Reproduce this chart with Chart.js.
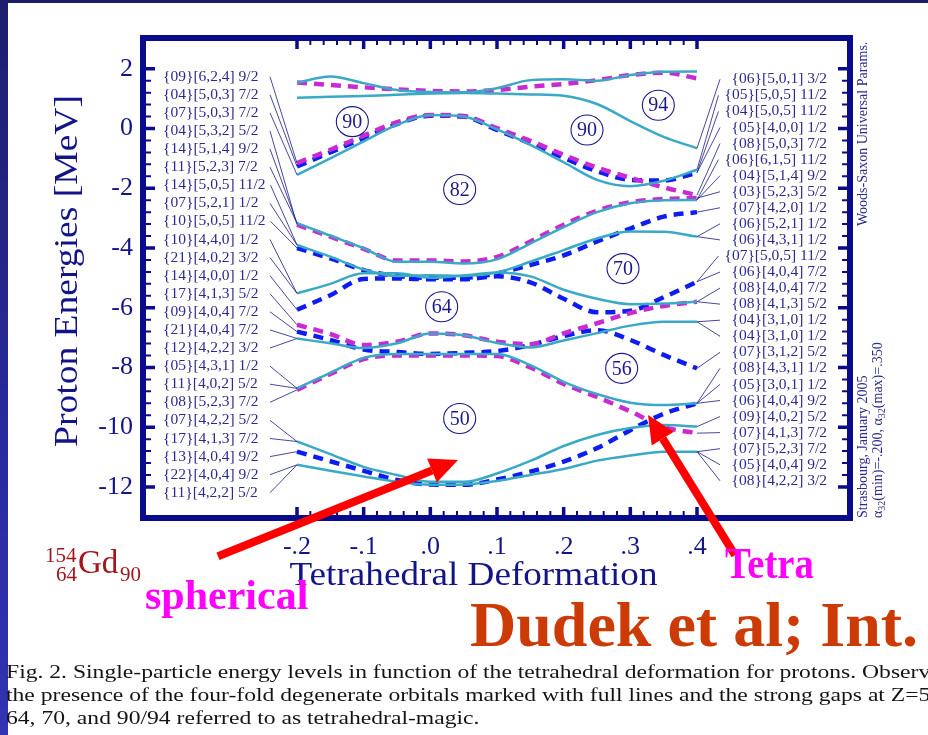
<!DOCTYPE html>
<html>
<head>
<meta charset="utf-8">
<title>Proton single-particle levels vs tetrahedral deformation</title>
<script src="https://cdn.jsdelivr.net/npm/chart.js@4.4.1/dist/chart.umd.min.js"></script>
<style>
  html, body { margin: 0; padding: 0; background: #fff; }
  #slide { position: relative; width: 928px; height: 735px; overflow: hidden; background: #fff;
           font-family: "Liberation Serif", "Times New Roman", serif; }
  #bandTop { position: absolute; left: 0; top: 0; width: 928px; height: 3px; background: #1c1c66; }
  #bandLeft { position: absolute; left: 0; top: 0; width: 8px; height: 735px;
              background: linear-gradient(#1e1e6c, #2a2a9c 60%, #3333b4); }
  canvas { position: absolute; left: 0; top: 0; }
  .t { position: absolute; white-space: nowrap; line-height: 1; }
  .nuc { color: #a3161c; }
  .pink { color: #ff00ff; font-weight: bold; }
  #dudek { color: #cc3a06; font-weight: bold; font-size: 64px; left: 470px; top: 593px; }
  .cap { font-size: 18px; color: #141414; left: 6px; transform-origin: 0 0; }
</style>
</head>
<body>
<div id="slide">
  <canvas id="levels" width="928" height="735"></canvas>
  <div id="bandTop"></div>
  <div id="bandLeft"></div>

  <span class="t nuc" style="left:45px;top:545px;font-size:21px">154</span>
  <span class="t nuc" style="left:56px;top:564px;font-size:21px">64</span>
  <span class="t nuc" style="left:78px;top:546px;font-size:33px">Gd</span>
  <span class="t nuc" style="left:120px;top:564px;font-size:21px">90</span>

  <span class="t pink" id="spherical" style="left:145px;top:574px;font-size:42px">spherical</span>
  <span class="t pink" id="tetra" style="left:725px;top:542px;font-size:44px;transform:scaleX(0.88);transform-origin:0 0">Tetra</span>
  <span class="t" id="dudek">Dudek et al; Int.</span>

  <span class="t cap" id="cap1" style="top:663px">Fig. 2. Single-particle energy levels in function of the tetrahedral deformation for protons. Observe</span>
  <span class="t cap" id="cap2" style="top:686px">the presence of the four-fold degenerate orbitals marked with full lines and the strong gaps at Z=56,</span>
  <span class="t cap" id="cap3" style="top:709px">64, 70, and 90/94 referred to as tetrahedral-magic.</span>
</div>

<script>
// Tetrahedral deformation alpha_32 at which the levels are sampled
const alpha = [-0.2, -0.15, -0.1, -0.05, 0, 0.05, 0.1, 0.15, 0.2, 0.25, 0.3, 0.35, 0.4];

// Four-fold degenerate levels (full lines), energies in MeV
const levelA = [1.53, 1.74, 1.52, 1.29, 1.22, 1.21, 1.35, 1.62, 1.65, 1.60, 1.79, 1.90, 1.91];
const levelB = [1.03, 1.06, 1.09, 1.13, 1.17, 1.19, 1.17, 1.14, 1.10, 0.82, 0.25, -0.28, -0.66];
const levelC = [-1.55, -1.00, -0.43, 0.12, 0.45, 0.40, -0.03, -0.55, -1.13, -1.72, -1.93, -1.75, -1.38];
const levelE = [-3.17, -3.59, -4.01, -4.46, -4.46, -4.52, -4.38, -3.85, -3.30, -2.80, -2.50, -2.40, -2.39];
const levelH = [-3.90, -4.29, -4.72, -4.94, -4.91, -4.94, -4.82, -4.46, -4.07, -3.68, -3.45, -3.46, -3.62];
const levelI = [-5.52, -5.20, -4.85, -4.85, -5.00, -4.92, -4.82, -4.95, -5.40, -5.70, -5.88, -5.86, -5.80];
const levelL = [-7.03, -7.19, -7.35, -7.19, -6.86, -6.92, -7.18, -7.33, -7.10, -6.85, -6.60, -6.47, -6.47];
const levelM = [-8.70, -8.18, -7.68, -7.55, -7.55, -7.55, -7.55, -7.92, -8.48, -8.89, -9.18, -9.26, -9.20];
const levelO = [-10.48, -10.90, -11.33, -11.60, -11.83, -11.83, -11.55, -11.13, -10.63, -10.26, -10.03, -9.93, -9.98];
const levelP = [-11.26, -11.46, -11.65, -11.83, -11.93, -11.92, -11.80, -11.60, -11.40, -11.12, -10.95, -10.82, -10.82];

// Two-fold levels, blue dashed
const levelDb = [-1.27, -0.80, -0.32, 0.15, 0.43, 0.40, -0.05, -0.50, -0.98, -1.43, -1.72, -1.74, -1.48];
const levelG  = [-4.00, -4.35, -4.74, -4.94, -5.00, -5.00, -4.85, -4.57, -4.25, -3.78, -3.35, -2.95, -2.80];
const levelJ  = [-6.07, -5.58, -5.04, -5.02, -5.05, -5.05, -4.95, -5.15, -5.70, -6.15, -6.10, -5.65, -5.13];
const levelKb = [-6.80, -7.08, -7.40, -7.48, -7.55, -7.51, -7.45, -7.25, -6.95, -6.75, -7.08, -7.58, -8.03];
const levelN  = [-10.82, -11.14, -11.46, -11.77, -11.92, -11.93, -11.75, -11.49, -11.15, -10.70, -10.10, -9.55, -9.20];

// Two-fold levels, magenta dashed
const levelT  = [1.54, 1.46, 1.38, 1.31, 1.26, 1.24, 1.29, 1.40, 1.49, 1.62, 1.79, 1.87, 1.68];
const levelD  = [-1.16, -0.71, -0.24, 0.21, 0.45, 0.42, 0.01, -0.41, -0.88, -1.31, -1.65, -1.97, -2.23];
const levelF  = [-3.22, -3.62, -4.03, -4.42, -4.42, -4.45, -4.30, -3.78, -3.22, -2.75, -2.47, -2.36, -2.33];
const levelK  = [-6.57, -6.88, -7.25, -7.14, -6.86, -6.92, -7.14, -7.22, -6.86, -6.52, -6.18, -5.94, -5.80];
const levelMm = [-8.75, -8.22, -7.72, -7.60, -7.60, -7.60, -7.62, -8.00, -8.55, -8.99, -9.47, -9.99, -10.20];

// Orbital labels (Nilsson-type) and the level each one is attached to
const leftOrbitals = [
  '{09}[6,2,4] 9/2', '{04}[5,0,3] 7/2', '{07}[5,0,3] 7/2', '{04}[5,3,2] 5/2',
  '{14}[5,1,4] 9/2', '{11}[5,2,3] 7/2', '{14}[5,0,5] 11/2', '{07}[5,2,1] 1/2',
  '{10}[5,0,5] 11/2', '{10}[4,4,0] 1/2', '{21}[4,0,2] 3/2', '{14}[4,0,0] 1/2',
  '{17}[4,1,3] 5/2', '{09}[4,0,4] 7/2', '{21}[4,0,4] 7/2', '{12}[4,2,2] 3/2',
  '{05}[4,3,1] 1/2', '{11}[4,0,2] 5/2', '{08}[5,2,3] 7/2', '{07}[4,2,2] 5/2',
  '{17}[4,1,3] 7/2', '{13}[4,0,4] 9/2', '{22}[4,0,4] 9/2', '{11}[4,2,2] 5/2'
];
const leftLevelOf = ['D', 'Db', 'C', 'F', 'E', 'E', 'H', 'H', 'G', 'I', 'I', 'J',
                     'K', 'Kb', 'L', 'L', 'M', 'M', 'Mm', 'O', 'O', 'N', 'P', 'P'];
const rightOrbitals = [
  '{06}[5,0,1] 3/2', '{05}[5,0,5] 11/2', '{04}[5,0,5] 11/2', '{05}[4,0,0] 1/2',
  '{08}[5,0,3] 7/2', '{06}[6,1,5] 11/2', '{04}[5,1,4] 9/2', '{03}[5,2,3] 5/2',
  '{07}[4,2,0] 1/2', '{06}[5,2,1] 1/2', '{06}[4,3,1] 1/2', '{07}[5,0,5] 11/2',
  '{06}[4,0,4] 7/2', '{08}[4,0,4] 7/2', '{08}[4,1,3] 5/2', '{04}[3,1,0] 1/2',
  '{04}[3,1,0] 1/2', '{07}[3,1,2] 5/2', '{08}[4,3,1] 1/2', '{05}[3,0,1] 1/2',
  '{06}[4,0,4] 9/2', '{09}[4,0,2] 5/2', '{07}[4,1,3] 7/2', '{07}[5,2,3] 7/2',
  '{05}[4,0,4] 9/2', '{08}[4,2,2] 3/2'
];
const rightLevelOf = ['B', 'C', 'Db', 'Db', 'D', 'E', 'E', 'F', 'G', 'H', 'H', 'J', 'J',
                      'I', 'K', 'L', 'L', 'Kb', 'M', 'N', 'M', 'O', 'Mm', 'P', 'P', 'P'];

// Shell gaps (circled proton numbers) and where they sit
const gapNumbers = ['90', '82', '90', '94', '70', '64', '56', '50'];
const gapAlpha   = [-0.117, 0.044, 0.235, 0.342, 0.289, 0.017, 0.287, 0.044];
const gapEnergy  = [0.23, -2.04, -0.05, 0.78, -4.69, -5.97, -8.03, -9.71];

// Axis ticks
const yTickValues = [2, 0, -2, -4, -6, -8, -10, -12];
const xTickValues = [-0.2, -0.1, 0, 0.1, 0.2, 0.3, 0.4];
const xTickText   = ['-.2', '-.1', '.0', '.1', '.2', '.3', '.4'];

// Pointers from the slide annotations to the spherical and tetrahedral points
const arrowFrom = [[-0.3185, -14.32], [0.457, -14.28]];
const arrowTo   = [[0.0415, -11.10], [0.3265, -9.59]];

// ---------------------------------------------------------------------
const levels = {
  A: { v: levelA, kind: 'full' }, B: { v: levelB, kind: 'full' }, C: { v: levelC, kind: 'full' },
  E: { v: levelE, kind: 'full' }, H: { v: levelH, kind: 'full' }, I: { v: levelI, kind: 'full' },
  L: { v: levelL, kind: 'full' }, M: { v: levelM, kind: 'full' }, O: { v: levelO, kind: 'full' },
  P: { v: levelP, kind: 'full' },
  Db: { v: levelDb, kind: 'blue' }, G: { v: levelG, kind: 'blue' }, J: { v: levelJ, kind: 'blue' },
  Kb: { v: levelKb, kind: 'blue' }, N: { v: levelN, kind: 'blue' },
  T: { v: levelT, kind: 'pink' }, D: { v: levelD, kind: 'pink' }, F: { v: levelF, kind: 'pink' },
  K: { v: levelK, kind: 'pink' }, Mm: { v: levelMm, kind: 'pink' }
};

const lineStyle = {
  full: { color: '#3aa9c6', width: 2.5, dash: [],      order: 0 },
  pink: { color: '#c92ad2', width: 4.5, dash: [10, 7], order: 1 },
  blue: { color: '#0d1cf0', width: 4.5, dash: [10, 7], order: 2 }
};

const datasets = Object.entries(levels).map(([key, lv]) => {
  const s = lineStyle[lv.kind];
  return {
    label: key,
    data: alpha.map((a, i) => ({ x: a, y: lv.v[i] })),
    borderColor: s.color,
    borderWidth: s.width,
    borderDash: s.dash,
    borderCapStyle: 'butt',
    pointRadius: 0,
    fill: false,
    cubicInterpolationMode: 'monotone',
    order: s.order
  };
});

const INK = '#0a0a8c';
const LABEL_INK = '#2b2b8f';

function drawArrow(ctx, x1, y1, x2, y2) {
  const ang = Math.atan2(y2 - y1, x2 - x1);
  const headLen = 28, headHalf = 13;
  const bx = x2 - headLen * Math.cos(ang), by = y2 - headLen * Math.sin(ang);
  ctx.save();
  ctx.strokeStyle = '#ff0000';
  ctx.fillStyle = '#ff0000';
  ctx.lineWidth = 8;
  ctx.lineCap = 'butt';
  ctx.beginPath(); ctx.moveTo(x1, y1); ctx.lineTo(bx, by); ctx.stroke();
  ctx.beginPath();
  ctx.moveTo(x2, y2);
  ctx.lineTo(bx + headHalf * Math.sin(ang), by - headHalf * Math.cos(ang));
  ctx.lineTo(bx - headHalf * Math.sin(ang), by + headHalf * Math.cos(ang));
  ctx.closePath(); ctx.fill();
  ctx.restore();
}

// Text stretched along its own direction to a given length
function fitText(ctx, text, cx, cy, length, rot) {
  ctx.save();
  ctx.translate(cx, cy);
  if (rot) ctx.rotate(rot);
  const w = ctx.measureText(text).width;
  ctx.scale(length / w, 1);
  ctx.textAlign = 'center';
  ctx.fillText(text, 0, 0);
  ctx.restore();
}

const decor = {
  id: 'decor',
  afterDatasetsDraw(chart) {
    const { ctx, chartArea: ca, scales: { x, y } } = chart;
    ctx.save();

    // frame
    ctx.strokeStyle = INK;
    ctx.lineWidth = 6;
    ctx.strokeRect(ca.left - 3, ca.top - 3, ca.right - ca.left + 6, ca.bottom - ca.top + 6);

    // inward ticks: energy every 0.4 MeV, deformation every 0.02
    ctx.lineCap = 'butt';
    for (let i = 0; i <= 35; i++) {
      const v = 2 - i * 0.4, major = i % 5 === 0;
      const py = y.getPixelForValue(v);
      ctx.lineWidth = major ? 3.5 : 2;
      const len = major ? 9 : 5;
      ctx.beginPath();
      ctx.moveTo(ca.left, py); ctx.lineTo(ca.left + len, py);
      ctx.moveTo(ca.right, py); ctx.lineTo(ca.right - len, py);
      ctx.stroke();
    }
    for (let i = 0; i <= 30; i++) {
      const v = -0.2 + i * 0.02, major = i % 5 === 0;
      const px = x.getPixelForValue(v);
      ctx.lineWidth = major ? 3.5 : 2;
      const len = major ? 8 : 4;
      ctx.beginPath();
      ctx.moveTo(px, ca.top); ctx.lineTo(px, ca.top + len);
      ctx.moveTo(px, ca.bottom); ctx.lineTo(px, ca.bottom - len);
      ctx.stroke();
    }

    // tick labels
    ctx.fillStyle = '#14148a';
    ctx.font = '26px "Liberation Serif"';
    ctx.textAlign = 'right';
    ctx.textBaseline = 'middle';
    yTickValues.forEach(v => ctx.fillText(String(v), ca.left - 13, y.getPixelForValue(v)));
    ctx.textAlign = 'center';
    ctx.textBaseline = 'alphabetic';
    xTickValues.forEach((v, i) => ctx.fillText(xTickText[i], x.getPixelForValue(v), ca.bottom + 39));

    // axis titles
    ctx.font = '34px "Liberation Serif"';
    ctx.textBaseline = 'alphabetic';
    fitText(ctx, 'Tetrahedral Deformation', (ca.left + ca.right) / 2 - 23, ca.bottom + 70, 368, 0);
    fitText(ctx, 'Proton Energies [MeV]', 77, (ca.top + ca.bottom) / 2 - 7, 352, -Math.PI / 2);

    // orbital labels with leader lines to the level ends
    ctx.font = '15.5px "Liberation Serif"';
    ctx.textBaseline = 'middle';
    ctx.lineWidth = 1;
    ctx.strokeStyle = 'rgba(40,40,140,0.85)';
    const x0 = x.getPixelForValue(alpha[0]);
    const x1 = x.getPixelForValue(alpha[alpha.length - 1]);
    leftOrbitals.forEach((t, i) => {
      const ly = ca.top + 35.7 + i * 18.09;
      const lx = ca.left + 17;
      ctx.fillStyle = LABEL_INK;
      ctx.textAlign = 'left';
      ctx.fillText(t, lx, ly);
      const sx = Math.max(lx + ctx.measureText(t).width + 5, ca.left + 124);
      const lv = levels[leftLevelOf[i]].v;
      ctx.beginPath(); ctx.moveTo(sx, ly); ctx.lineTo(x0, y.getPixelForValue(lv[0])); ctx.stroke();
    });
    rightOrbitals.forEach((t, i) => {
      const ly = ca.top + 38.3 + i * 16.06;
      const rx = ca.right - 20;
      ctx.fillStyle = LABEL_INK;
      ctx.textAlign = 'right';
      ctx.fillText(t, rx, ly);
      const ex = Math.min(rx - ctx.measureText(t).width - 6, ca.right - 127);
      const lv = levels[rightLevelOf[i]].v;
      ctx.beginPath(); ctx.moveTo(x1, y.getPixelForValue(lv[lv.length - 1])); ctx.lineTo(ex, ly); ctx.stroke();
    });

    // circled gap numbers
    ctx.font = '20px "Liberation Serif"';
    ctx.textAlign = 'center';
    ctx.textBaseline = 'middle';
    gapNumbers.forEach((n, i) => {
      const px = x.getPixelForValue(gapAlpha[i]), py = y.getPixelForValue(gapEnergy[i]);
      ctx.strokeStyle = '#1a1a8c';
      ctx.lineWidth = 1.1;
      ctx.beginPath(); ctx.ellipse(px, py, 16, 15, 0, 0, Math.PI * 2); ctx.stroke();
      ctx.fillStyle = '#1a1a8c';
      ctx.fillText(n, px, py + 1);
    });

    // side notes, written upwards
    ctx.fillStyle = LABEL_INK;
    ctx.font = '14px "Liberation Serif"';
    ctx.textAlign = 'left';
    ctx.textBaseline = 'alphabetic';
    const side = (txt, bx, by) => {
      ctx.save(); ctx.translate(bx, by); ctx.rotate(-Math.PI / 2); ctx.fillText(txt, 0, 0); ctx.restore();
    };
    side('Woods-Saxon Universal Params.', ca.right + 20, 226);
    side('Strasbourg, January 2005', ca.right + 20, ca.bottom + 3);
    // alpha_32 range line with subscripts
    ctx.save();
    ctx.translate(ca.right + 35, ca.bottom + 3);
    ctx.rotate(-Math.PI / 2);
    let cx = 0;
    const piece = (s, sub) => {
      ctx.font = sub ? '10px "Liberation Serif"' : '14px "Liberation Serif"';
      ctx.fillText(s, cx, sub ? 3 : 0);
      cx += ctx.measureText(s).width;
    };
    piece('\u03b1'); piece('32', true); piece('(min)=-.200, ');
    piece('\u03b1'); piece('32', true); piece('(max)=.350');
    ctx.restore();

    // red pointers
    arrowFrom.forEach((f, i) => {
      drawArrow(ctx, x.getPixelForValue(f[0]), y.getPixelForValue(f[1]),
                x.getPixelForValue(arrowTo[i][0]), y.getPixelForValue(arrowTo[i][1]));
    });

    ctx.restore();
  }
};

new Chart(document.getElementById('levels'), {
  type: 'line',
  data: { datasets },
  options: {
    responsive: false,
    animation: false,
    devicePixelRatio: 1,
    layout: { padding: { left: 146, right: 81, top: 41, bottom: 220 } },
    plugins: { legend: { display: false }, tooltip: { enabled: false } },
    scales: {
      x: { type: 'linear', min: -0.4265, max: 0.625, display: false },
      y: { type: 'linear', min: -12.94, max: 2.93, display: false }
    }
  },
  plugins: [decor]
});

// caption set to its printed width
(function () {
  const ref = document.getElementById('cap1');
  const s = 935 / ref.getBoundingClientRect().width;
  ['cap1', 'cap2', 'cap3'].forEach(id => {
    document.getElementById(id).style.transform = 'scaleX(' + s.toFixed(3) + ')';
  });
})();
</script>
</body>
</html>
